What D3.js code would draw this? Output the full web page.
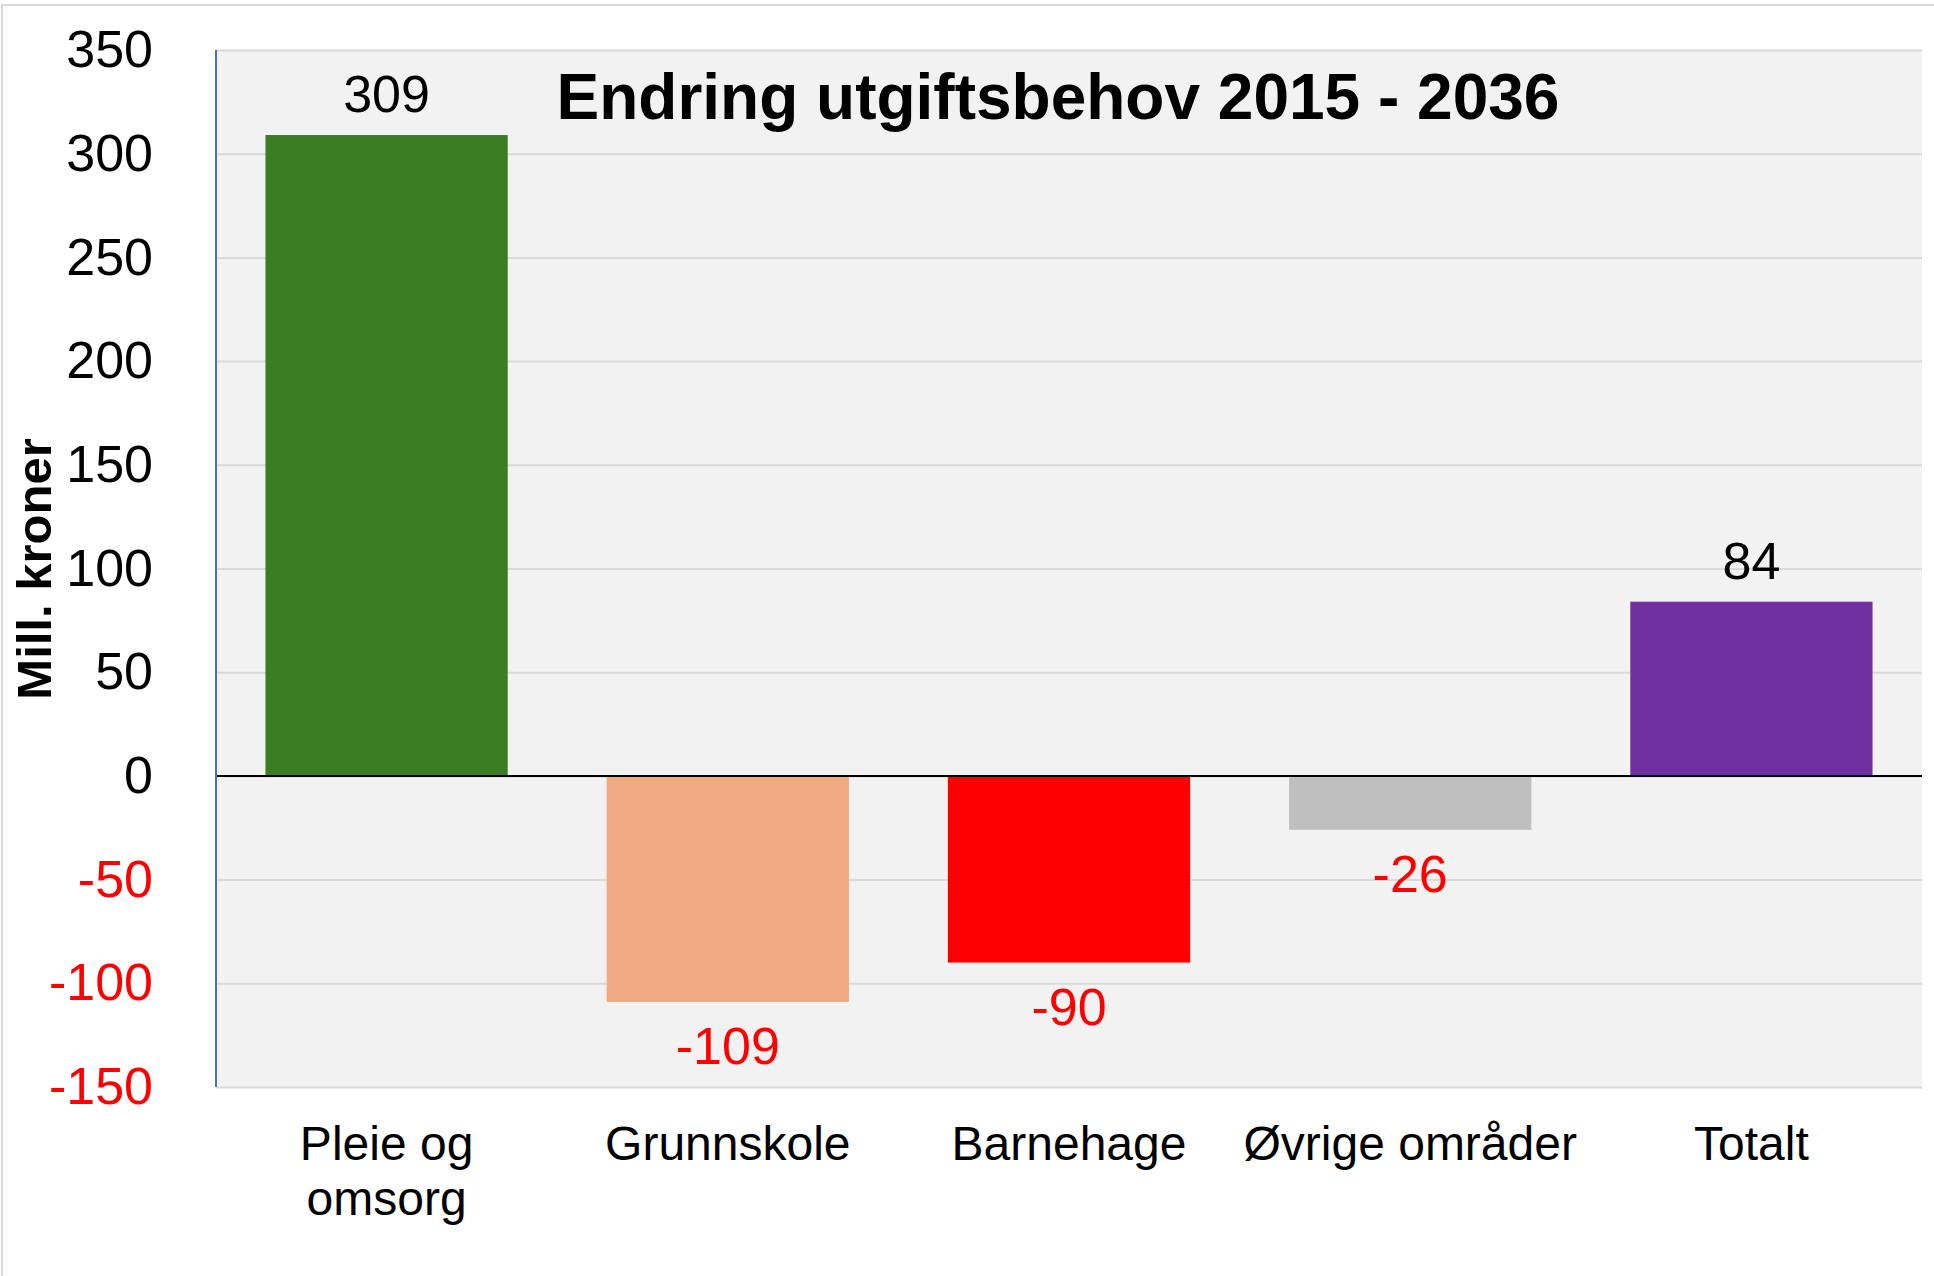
<!DOCTYPE html>
<html>
<head>
<meta charset="utf-8">
<script src="https://cdn.jsdelivr.net/npm/d3@7"></script>
<style>
  body { margin: 0; background: #fff; }
  svg text { font-family: "Liberation Sans", Arial, sans-serif; }
</style>
</head>
<body>
<svg id="chart"></svg>
<script>
// chart data
const categories = ['Pleie og omsorg', 'Grunnskole', 'Barnehage', 'Øvrige områder', 'Totalt'];
const labelLines = [['Pleie og', 'omsorg'], ['Grunnskole'], ['Barnehage'], ['Øvrige områder'], ['Totalt']];
const values = [309, -109, -90, -26, 84];
const barColors = ['#3b7d23', '#f1a983', '#ff0000', '#bfbfbf', '#7030a0'];
const yTicks = [-150, -100, -50, 0, 50, 100, 150, 200, 250, 300, 350];
const title = 'Endring utgiftsbehov 2015 - 2036';
const yTitle = 'Mill. kroner';

const width = 1934, height = 1276;
const margin = {top: 50, right: 12, bottom: 189, left: 216};

const svg = d3.select('#chart')
  .attr('width', width)
  .attr('height', height);

// outer frame
svg.append('rect')
  .attr('x', 2).attr('y', 5)
  .attr('width', width + 10).attr('height', height + 10)
  .attr('fill', '#fff')
  .attr('stroke', '#d9d9d9')
  .attr('stroke-width', 2);

const x = d3.scaleBand()
  .domain(categories)
  .range([margin.left, width - margin.right])
  .paddingInner(0.29)
  .paddingOuter(0.145);

const y = d3.scaleLinear()
  .domain([-150, 350])
  .range([height - margin.bottom, margin.top]);

// plot background
svg.append('rect')
  .attr('x', margin.left)
  .attr('y', y(350))
  .attr('width', width - margin.right - margin.left)
  .attr('height', y(-150) - y(350))
  .attr('fill', '#f2f2f2');

// gridlines
svg.append('g')
  .attr('transform', `translate(${margin.left},0)`)
  .call(d3.axisLeft(y).tickValues(yTicks).tickSize(-(width - margin.right - margin.left)).tickFormat(''))
  .call(g => g.select('.domain').remove())
  .call(g => g.selectAll('line').attr('stroke', '#d9d9d9').attr('stroke-width', 2));

// tick labels (plain hyphen for negatives)
svg.append('g')
  .attr('transform', `translate(153,0)`)
  .call(d3.axisLeft(y).tickValues(yTicks).tickSize(0).tickPadding(0).tickFormat(d => String(d)))
  .call(g => g.select('.domain').remove())
  .call(g => g.selectAll('text')
    .style('font-size', '52px')
    .attr('fill', d => d < 0 ? '#ff0000' : '#000'));

// bars
svg.append('g').selectAll('rect')
  .data(values)
  .join('rect')
  .attr('x', (d, i) => x(categories[i]))
  .attr('y', d => y(Math.max(0, d)))
  .attr('width', x.bandwidth())
  .attr('height', d => Math.abs(y(d) - y(0)))
  .attr('fill', (d, i) => barColors[i]);

// zero line and y axis line
svg.append('line')
  .attr('x1', margin.left).attr('x2', width - margin.right)
  .attr('y1', y(0)).attr('y2', y(0))
  .attr('stroke', '#000').attr('stroke-width', 2);

svg.append('line')
  .attr('x1', margin.left).attr('x2', margin.left)
  .attr('y1', y(350)).attr('y2', y(-150))
  .attr('stroke', '#4472c4').attr('stroke-width', 2);

// value labels
svg.append('g').selectAll('text')
  .data(values)
  .join('text')
  .attr('x', (d, i) => x(categories[i]) + x.bandwidth() / 2)
  .attr('y', d => d >= 0 ? y(d) - 23 : y(d) + 62)
  .attr('text-anchor', 'middle')
  .style('font-size', '52px')
  .attr('fill', d => d < 0 ? '#ff0000' : '#000')
  .text(d => d);

// category labels
const cat = svg.append('g').selectAll('text')
  .data(labelLines)
  .join('text')
  .attr('text-anchor', 'middle')
  .style('font-size', '48px')
  .attr('fill', '#000');

cat.selectAll('tspan')
  .data((d, i) => d.map(t => ({t, i})))
  .join('tspan')
  .attr('x', d => x(categories[d.i]) + x.bandwidth() / 2)
  .attr('y', (d, j) => 1160 + j * 55)
  .text(d => d.t);

// title
svg.append('text')
  .attr('x', 1058)
  .attr('y', 119)
  .attr('text-anchor', 'middle')
  .style('font-size', '64px')
  .style('font-weight', 'bold')
  .text(title);

// y axis title
svg.append('text')
  .attr('transform', 'translate(51,569) rotate(-90)')
  .attr('text-anchor', 'middle')
  .style('font-size', '49px')
  .style('font-weight', 'bold')
  .text(yTitle);
</script>
</body>
</html>
